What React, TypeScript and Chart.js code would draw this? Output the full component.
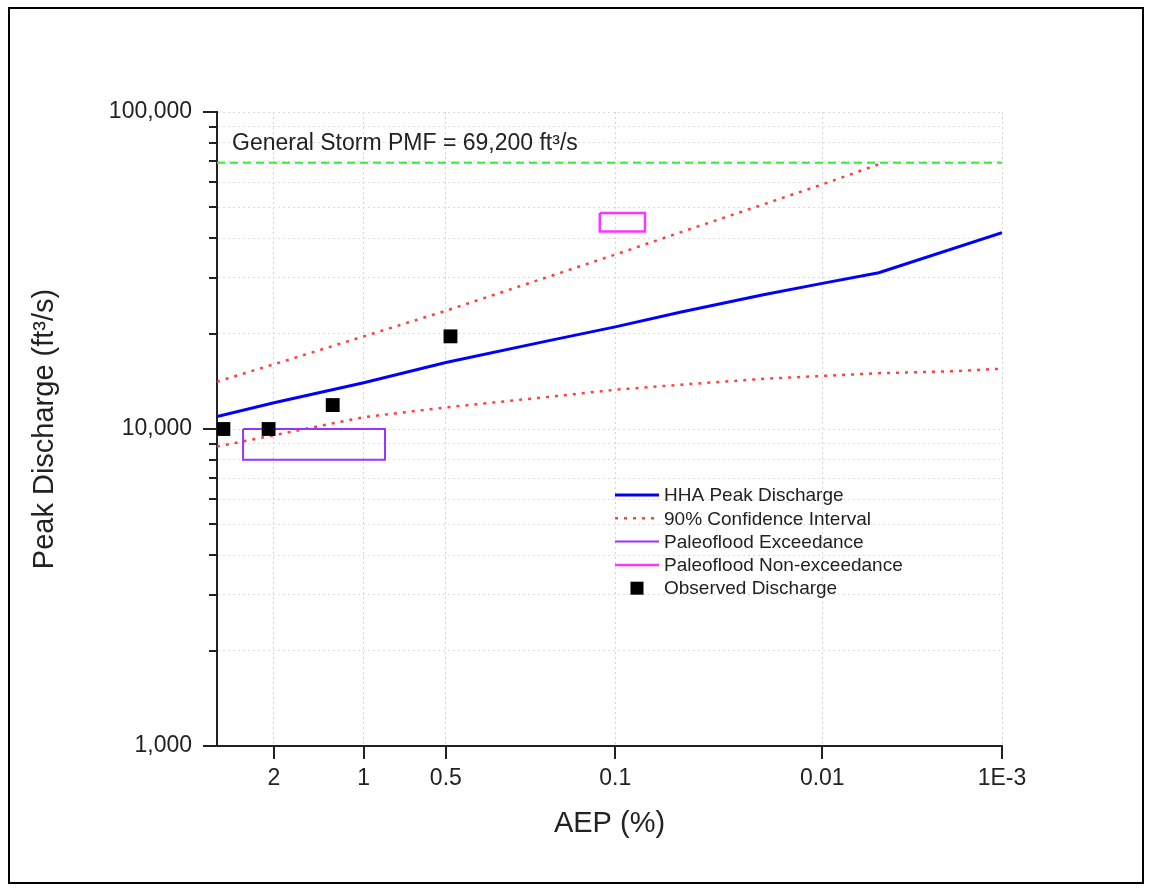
import React, { useEffect, useRef } from 'react';
import { Chart, registerables } from 'chart.js';

Chart.register(...registerables);

// ---- axis definitions ----
const X_MIN_AEP = 3; // %
const X_MAX_AEP = 0.001; // %
const X_TICK_AEP = [2, 1, 0.5, 0.1, 0.01, 0.001];
const X_TICK_LABELS = ['2', '1', '0.5', '0.1', '0.01', '1E-3'];

const Y_MIN = 1000;
const Y_MAX = 100000;
const Y_TICKS = [
  1000, 2000, 3000, 4000, 5000, 6000, 7000, 8000, 9000,
  10000, 20000, 30000, 40000, 50000, 60000, 70000, 80000, 90000,
  100000,
];
const Y_MAJOR = [1000, 10000, 100000];

// ---- series (AEP in %, discharge in ft3/s) ----
const HHA_AEP = [3, 2, 1, 0.5, 0.2, 0.1, 0.05, 0.02, 0.01, 0.005, 0.001];
const HHA_Q = [10950, 12100, 14000, 16200, 18900, 21000, 23400, 26500, 28800, 31100, 41600];

const UPPER_AEP = [3, 2, 1, 0.5, 0.2, 0.1, 0.05, 0.02, 0.01, 0.005];
const UPPER_Q = [14100, 16000, 19600, 23600, 30000, 35500, 41800, 51100, 59100, 68400];

const LOWER_AEP = [3, 2, 1, 0.5, 0.2, 0.1, 0.05, 0.02, 0.01, 0.005, 0.002, 0.001];
const LOWER_Q = [8800, 9560, 10900, 11700, 12600, 13300, 13800, 14400, 14700, 15000, 15200, 15500];

const OBS_AEP = [2.87, 2.08, 1.28, 0.48];
const OBS_Q = [10000, 10000, 11900, 19600];

// paleoflood bounds: [AEP from, AEP to], [Q low, Q high]
const PALEO_EXC_AEP = [2.5, 0.84];
const PALEO_EXC_Q = [8000, 10000];
const PALEO_NONEXC_AEP = [0.117, 0.0735];
const PALEO_NONEXC_Q = [42000, 48000];

const PMF_Q = 69200;

const FONT = 'Liberation Sans, Arial, Helvetica, sans-serif';
const TEXT = '#222222';

// inverse standard normal CDF (Acklam)
function normInv(p: number): number {
  const a = [-3.969683028665376e1, 2.209460984245205e2, -2.759285104469687e2, 1.38357751867269e2, -3.066479806614716e1, 2.506628277459239];
  const b = [-5.447609879822406e1, 1.615858368580409e2, -1.556989798598866e2, 6.680131188771972e1, -1.328068155288572e1];
  const c = [-7.784894002430293e-3, -3.223964580411365e-1, -2.400758277161838, -2.549732539343734, 4.374664141464968, 2.938163982698783];
  const d = [7.784695709041462e-3, 3.224671290700398e-1, 2.445134137142996, 3.754408661907416];
  const plow = 0.02425;
  const phigh = 1 - plow;
  if (p < plow) {
    const q = Math.sqrt(-2 * Math.log(p));
    return (((((c[0] * q + c[1]) * q + c[2]) * q + c[3]) * q + c[4]) * q + c[5]) /
      ((((d[0] * q + d[1]) * q + d[2]) * q + d[3]) * q + 1);
  }
  if (p <= phigh) {
    const q = p - 0.5;
    const r = q * q;
    return ((((((a[0] * r + a[1]) * r + a[2]) * r + a[3]) * r + a[4]) * r + a[5]) * q) /
      (((((b[0] * r + b[1]) * r + b[2]) * r + b[3]) * r + b[4]) * r + 1);
  }
  const q = Math.sqrt(-2 * Math.log(1 - p));
  return -(((((c[0] * q + c[1]) * q + c[2]) * q + c[3]) * q + c[4]) * q + c[5]) /
    ((((d[0] * q + d[1]) * q + d[2]) * q + d[3]) * q + 1);
}

// normal-probability position of an exceedance probability given in percent
const zOf = (aepPct: number) => -normInv(aepPct / 100);

const toPoints = (aep: number[], q: number[]) => aep.map((a, i) => ({ x: zOf(a), y: q[i] }));

const boxPoints = (aep: number[], q: number[]) => [
  { x: zOf(aep[0]), y: q[1] },
  { x: zOf(aep[1]), y: q[1] },
  { x: zOf(aep[1]), y: q[0] },
  { x: zOf(aep[0]), y: q[0] },
  { x: zOf(aep[0]), y: q[1] },
];

// tick marks: long for decades, short for the minor log ticks
const axisTicks = {
  id: 'axisTicks',
  afterDraw(chart: any) {
    const { ctx } = chart;
    const xs = chart.scales.x;
    const ys = chart.scales.y;
    ctx.save();
    ctx.strokeStyle = TEXT;
    ctx.lineWidth = 2;
    ys.ticks.forEach((t: any) => {
      const py = Math.round(ys.getPixelForValue(t.value));
      const len = Y_MAJOR.includes(t.value) ? 14 : 8;
      ctx.beginPath();
      ctx.moveTo(ys.right - len, py);
      ctx.lineTo(ys.right, py);
      ctx.stroke();
    });
    xs.ticks.forEach((t: any) => {
      const px = Math.round(xs.getPixelForValue(t.value));
      ctx.beginPath();
      ctx.moveTo(px, xs.top);
      ctx.lineTo(px, xs.top + 13);
      ctx.stroke();
    });
    ctx.restore();
  },
};

// PMF annotation above the dashed line
const pmfLabel = {
  id: 'pmfLabel',
  afterDatasetsDraw(chart: any) {
    const { ctx, chartArea } = chart;
    const ys = chart.scales.y;
    const y = ys.getPixelForValue(PMF_Q) - 13;
    ctx.save();
    ctx.fillStyle = TEXT;
    ctx.font = `23px ${FONT}`;
    ctx.textBaseline = 'alphabetic';
    ctx.textAlign = 'left';
    ctx.fillText(`General Storm PMF = ${PMF_Q.toLocaleString('en-US')} ft³/s`, chartArea.left + 15, y);
    ctx.restore();
  },
};

// legend drawn inside the plot area
const insideLegend = {
  id: 'insideLegend',
  afterDraw(chart: any) {
    const { ctx, chartArea } = chart;
    const items = chart.data.datasets.filter((d: any) => d.legendRow !== undefined)
      .sort((a: any, b: any) => a.legendRow - b.legendRow);
    const x0 = chartArea.left + 398;
    const x1 = x0 + 44;
    const tx = x1 + 5;
    const y0 = chartArea.top + 383;
    const step = 23.3;
    ctx.save();
    ctx.font = `19px ${FONT}`;
    ctx.textBaseline = 'middle';
    ctx.textAlign = 'left';
    items.forEach((d: any, i: number) => {
      const y = y0 + i * step;
      if (d.showLine === false) {
        ctx.fillStyle = d.backgroundColor;
        ctx.fillRect((x0 + x1) / 2 - 6.5, y - 6.5, 13, 13);
      } else {
        ctx.strokeStyle = d.borderColor;
        ctx.lineWidth = d.borderWidth;
        ctx.setLineDash(d.borderDash || []);
        ctx.beginPath();
        ctx.moveTo(x0, y);
        ctx.lineTo(x1, y);
        ctx.stroke();
        ctx.setLineDash([]);
      }
      ctx.fillStyle = TEXT;
      ctx.fillText(d.label, tx, y + 1);
    });
    ctx.restore();
  },
};

export default function App() {
  const canvasRef = useRef<HTMLCanvasElement | null>(null);

  useEffect(() => {
    if (!canvasRef.current) return;
    Chart.defaults.font.family = FONT;
    Chart.defaults.color = TEXT;

    const lineBase = { pointRadius: 0, tension: 0, fill: false, borderJoinStyle: 'miter' as const };

    const chart = new Chart(canvasRef.current, {
      type: 'line',
      data: {
        datasets: [
          {
            label: 'Observed Discharge',
            data: toPoints(OBS_AEP, OBS_Q),
            showLine: false,
            pointStyle: 'rect',
            pointRadius: 9.8,
            backgroundColor: '#000000',
            borderColor: '#000000',
            borderWidth: 0,
            order: 0,
            legendRow: 4,
          } as any,
          {
            ...lineBase,
            label: 'Paleoflood Non-exceedance',
            data: boxPoints(PALEO_NONEXC_AEP, PALEO_NONEXC_Q),
            borderColor: '#ff33ff',
            borderWidth: 2.5,
            order: 1,
            legendRow: 3,
          } as any,
          {
            ...lineBase,
            label: 'Paleoflood Exceedance',
            data: boxPoints(PALEO_EXC_AEP, PALEO_EXC_Q),
            borderColor: '#9933ff',
            borderWidth: 2,
            order: 2,
            legendRow: 2,
          } as any,
          {
            ...lineBase,
            label: 'HHA Peak Discharge',
            data: toPoints(HHA_AEP, HHA_Q),
            borderColor: '#0000ff',
            borderWidth: 3,
            order: 3,
            legendRow: 0,
          } as any,
          {
            ...lineBase,
            label: '90% Confidence Interval',
            data: toPoints(UPPER_AEP, UPPER_Q),
            borderColor: '#ff4040',
            borderWidth: 2.5,
            borderDash: [3, 6],
            order: 4,
            legendRow: 1,
          } as any,
          {
            ...lineBase,
            label: '90% Confidence Interval (lower)',
            data: toPoints(LOWER_AEP, LOWER_Q),
            borderColor: '#ff4040',
            borderWidth: 2.5,
            borderDash: [3, 6],
            order: 5,
          } as any,
          {
            ...lineBase,
            label: 'General Storm PMF',
            data: [
              { x: zOf(X_MIN_AEP), y: PMF_Q },
              { x: zOf(X_MAX_AEP), y: PMF_Q },
            ],
            borderColor: '#33ee33',
            borderWidth: 2,
            borderDash: [8, 5],
            order: 6,
          } as any,
        ],
      },
      options: {
        animation: false,
        responsive: false,
        maintainAspectRatio: false,
        layout: { padding: { left: 0, top: 112, right: 150, bottom: 0 } },
        plugins: {
          legend: { display: false },
          tooltip: { enabled: false },
        },
        scales: {
          x: {
            type: 'linear',
            min: zOf(X_MIN_AEP),
            max: zOf(X_MAX_AEP),
            afterBuildTicks: (s: any) => {
              s.ticks = X_TICK_AEP.map((a) => ({ value: zOf(a) }));
            },
            afterFit: (s: any) => {
              s.height = 145;
            },
            ticks: {
              autoSkip: false,
              maxRotation: 0,
              padding: 19,
              color: TEXT,
              font: { size: 23, family: FONT },
              callback: (_v: any, i: number) => X_TICK_LABELS[i],
            },
            grid: { color: '#d4d4d4', lineWidth: 1, drawTicks: false },
            border: { display: true, color: TEXT, width: 2, dash: [2, 3] },
            title: {
              display: true,
              text: 'AEP (%)',
              color: TEXT,
              font: { size: 29, family: FONT },
              padding: { top: 50, bottom: 50 },
            },
          },
          y: {
            type: 'logarithmic',
            min: Y_MIN,
            max: Y_MAX,
            afterBuildTicks: (s: any) => {
              s.ticks = Y_TICKS.map((v) => ({ value: v, major: Y_MAJOR.includes(v) }));
            },
            afterFit: (s: any) => {
              s.width = 217;
            },
            ticks: {
              autoSkip: false,
              padding: 25,
              color: TEXT,
              font: { size: 23, family: FONT },
              callback: (v: any) => (Y_MAJOR.includes(Number(v)) ? Number(v).toLocaleString('en-US') : ''),
            },
            grid: { color: '#dddddd', lineWidth: 1, drawTicks: false },
            border: { display: true, color: TEXT, width: 2, dash: [2, 3] },
            title: {
              display: true,
              text: 'Peak Discharge (ft³/s)',
              color: TEXT,
              font: { size: 29, family: FONT },
              padding: { top: 28, bottom: 28 },
            },
          },
        },
      } as any,
      plugins: [axisTicks, pmfLabel, insideLegend],
    });

    return () => chart.destroy();
  }, []);

  return (
    <div style={{ position: 'absolute', left: 0, top: 0, width: 1152, height: 891, background: '#ffffff' }}>
      <canvas ref={canvasRef} width={1152} height={891} style={{ display: 'block', width: 1152, height: 891 }} />
      <div
        style={{
          position: 'absolute',
          left: 8,
          top: 7,
          width: 1136,
          height: 877,
          border: '2px solid #000000',
          boxSizing: 'border-box',
          pointerEvents: 'none',
        }}
      />
    </div>
  );
}
